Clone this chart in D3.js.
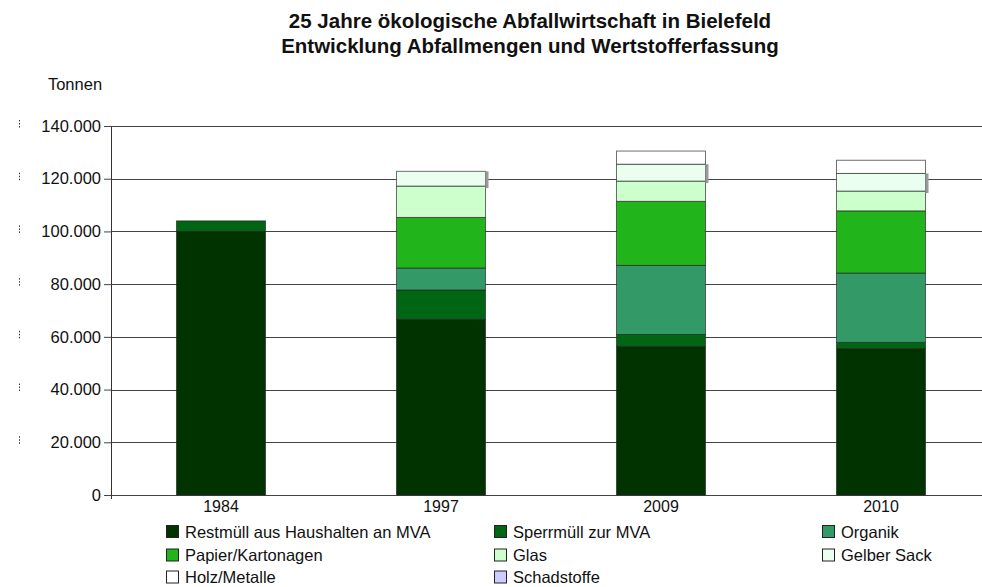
<!DOCTYPE html>
<html>
<head>
  <meta charset="UTF-8" />
  <title>Abfallwirtschaft Bielefeld</title>
  <style>
    body { margin: 0; background: #fff; }
    svg { font-family: "Liberation Sans", Arial, Helvetica, sans-serif; display: block; }
  </style>
  <script src="https://d3js.org/d3.v7.min.js"></script>
</head>
<body>
  <script>
    // data (Tonnen)
    const years = ["1984", "1997", "2009", "2010"];
    const seriesNames = ["Restmüll aus Haushalten an MVA", "Sperrmüll zur MVA", "Organik",
      "Papier/Kartonagen", "Glas", "Gelber Sack", "Holz/Metalle", "Schadstoffe"];
    const restmuell = [100000, 66600, 56400, 55600];
    const sperrmuell = [4000, 11200, 4500, 2300];
    const organik = [0, 8300, 26200, 26300];
    const papier = [0, 19200, 24300, 23600];
    const glas = [0, 11900, 7700, 7500];
    const gelberSack = [0, 5600, 6400, 6700];
    const holzMetalle = [0, 0, 5000, 5000];
    const schadstoffe = [0, 0, 0, 0];
    const yTicks = [0, 20000, 40000, 60000, 80000, 100000, 120000, 140000];
    const colors = ["#003300", "#006614", "#339966", "#22b41b", "#ccffcc", "#eafff0", "#ffffff", "#ccccff"];

    const W = 982, H = 587;
    const plot = { left: 111, right: 982, top: 126, bottom: 495 };

    const table = years.map((yr, i) => ({
      year: yr,
      [seriesNames[0]]: restmuell[i],
      [seriesNames[1]]: sperrmuell[i],
      [seriesNames[2]]: organik[i],
      [seriesNames[3]]: papier[i],
      [seriesNames[4]]: glas[i],
      [seriesNames[5]]: gelberSack[i],
      [seriesNames[6]]: holzMetalle[i],
      [seriesNames[7]]: schadstoffe[i]
    }));

    const de = d3.formatLocale({ decimal: ",", thousands: ".", grouping: [3], currency: ["", " €"] });
    const fmt = de.format(",d");

    const svg = d3.select("body").append("svg")
      .attr("width", W).attr("height", H);

    /* title */
    svg.append("text").attr("x", 530).attr("y", 28).attr("text-anchor", "middle")
      .attr("font-size", 20.5).attr("font-weight", "bold").attr("fill", "#111")
      .text("25 Jahre ökologische Abfallwirtschaft in Bielefeld");
    svg.append("text").attr("x", 530).attr("y", 53).attr("text-anchor", "middle")
      .attr("font-size", 20.5).attr("font-weight", "bold").attr("fill", "#111")
      .text("Entwicklung Abfallmengen und Wertstofferfassung");

    svg.append("text").attr("x", 75).attr("y", 90).attr("text-anchor", "middle")
      .attr("font-size", 16.5).attr("fill", "#111").text("Tonnen");

    /* scales */
    const x = d3.scaleBand().domain(years).range([plot.left, plot.left + 880]);
    const y = d3.scaleLinear().domain([0, 140000]).range([plot.bottom, plot.top]);
    const barW = 89;

    /* gridlines */
    svg.append("g").selectAll("line").data(yTicks).join("line")
      .attr("x1", plot.left).attr("x2", plot.right)
      .attr("y1", d => Math.round(y(d)) + 0.5).attr("y2", d => Math.round(y(d)) + 0.5)
      .attr("stroke", "#444").attr("stroke-width", 1);

    /* small dotted marks left of the labels */
    svg.append("g").selectAll("line").data(yTicks.filter(d => d > 0)).join("line")
      .attr("x1", 19.5).attr("x2", 19.5)
      .attr("y1", d => y(d) - 6).attr("y2", d => y(d) + 3)
      .attr("stroke", "#333").attr("stroke-dasharray", "1.5,1.5");

    /* y axis */
    const yAxis = svg.append("g")
      .attr("transform", `translate(${plot.left},0)`)
      .call(d3.axisLeft(y).tickValues(yTicks).tickFormat(fmt).tickSizeInner(7).tickSizeOuter(0).tickPadding(3));
    yAxis.select(".domain").attr("stroke", "#333");
    yAxis.selectAll(".tick line").attr("stroke", "#444");
    yAxis.selectAll(".tick text").attr("font-size", 16.5).attr("fill", "#111")
      .attr("font-family", "'Liberation Sans', Arial, sans-serif");
    svg.append("line").attr("x1", plot.left + 0.5).attr("x2", plot.left + 0.5)
      .attr("y1", plot.bottom).attr("y2", plot.bottom + 4).attr("stroke", "#333");

    /* x axis labels */
    const xAxis = svg.append("g")
      .attr("transform", `translate(0,${plot.bottom})`)
      .call(d3.axisBottom(x).tickSize(0).tickPadding(6));
    xAxis.select(".domain").remove();
    xAxis.selectAll(".tick text").attr("font-size", 16).attr("fill", "#111")
      .attr("font-family", "'Liberation Sans', Arial, sans-serif");

    /* stacked bars */
    const stacked = d3.stack().keys(seriesNames)(table);

    svg.append("g").selectAll("g").data(stacked).join("g")
      .attr("fill", (d, i) => colors[i])
      .selectAll("rect").data(d => d.filter(s => s[1] - s[0] > 0)).join("rect")
      .attr("x", d => x(d.data.year) + (x.bandwidth() - barW) / 2)
      .attr("y", d => y(d[1]))
      .attr("width", barW)
      .attr("height", d => y(d[0]) - y(d[1]))
      .attr("stroke", "#222").attr("stroke-opacity", 0.65).attr("stroke-width", 1);

    /* grey shadow marks at the right edge of the Gelber Sack segment */
    const gs = stacked[5];
    svg.append("g").selectAll("rect").data(gs.filter(s => s[1] - s[0] > 0)).join("rect")
      .attr("x", d => x(d.data.year) + (x.bandwidth() + barW) / 2)
      .attr("y", d => y(d[1]))
      .attr("width", 3)
      .attr("height", d => y(d[0]) - y(d[1]) + 2)
      .attr("fill", "#999");

    /* legend */
    const legCols = [166, 494, 822], legRows = [532, 555.5, 577.5];
    const legend = svg.append("g").selectAll("g").data(seriesNames).join("g")
      .attr("transform", (d, i) => `translate(${legCols[i % 3]},${legRows[Math.floor(i / 3)]})`);
    legend.append("rect")
      .attr("x", 0.5).attr("y", -6.5).attr("width", 12).attr("height", 12)
      .attr("fill", (d, i) => colors[i]).attr("stroke", "#222");
    legend.append("text")
      .attr("x", 19).attr("y", 5.5)
      .attr("font-size", 16.5).attr("fill", "#111")
      .text(d => d);
  </script>
</body>
</html>
